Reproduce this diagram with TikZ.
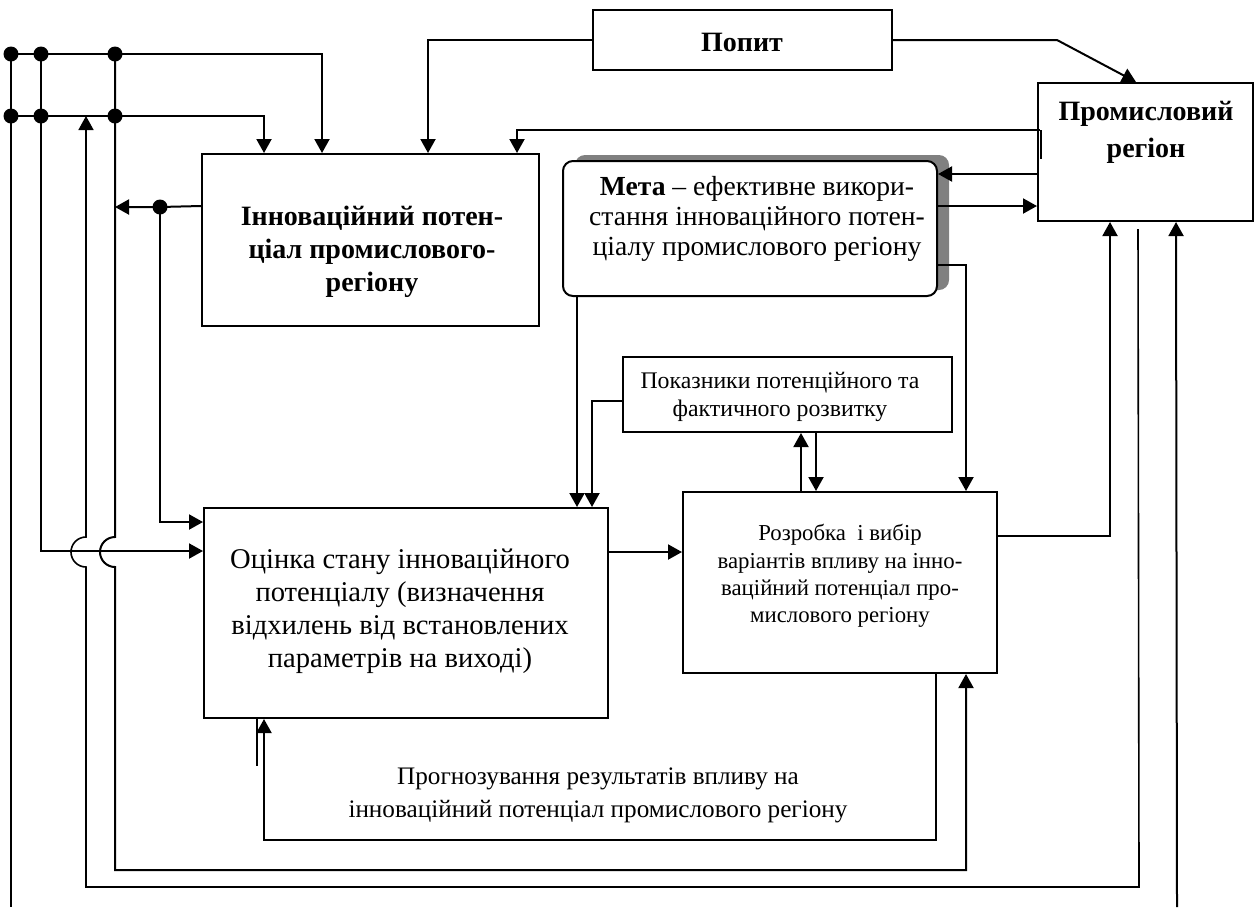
\documentclass[tikz,border=0pt]{standalone}
\usepackage{fontspec}
\setmainfont{Liberation Serif}
\usetikzlibrary{arrows.meta,fit,shadows,calc}

\tikzset{
  blk/.style={draw,line width=1pt,inner sep=0pt,fill=white},
  conn/.style={line width=1pt},
  thinln/.style={line width=0.8pt},
  arr/.style={-{Triangle[length=7pt,width=7.5pt]}},
  boldtxt/.style={align=center,font=\fontsize{14}{16.5}\selectfont\bfseries},
  midtxt/.style={align=center,font=\fontsize{14.3}{16.5}\selectfont},
  smalltxt/.style={align=center,font=\fontsize{11.4}{13.7}\selectfont},
}

\begin{document}
\begin{tikzpicture}[x=0.5pt,y=-0.5pt]
\useasboundingbox (0,0) rectangle (1257,907);

% blocks
\node[blk,fit={(593,10) (892,70)}] (pop) {};
\node[boldtxt] (popt) at (742,42) {Попит};
\node[blk,fit={(1038,83) (1253,221)}] (preg) {};
\node[boldtxt,font=\fontsize{14}{18.5}\selectfont\bfseries] (pregt) at (1146,132) {Промисловий\\регіон};
\node[blk,fit={(202,154) (539,326)}] (inn) {};
\node[boldtxt] (innt) at (372,252) {Інноваційний потен-\\ціал промислового-\\регіону};
\node[blk,rounded corners=5pt,fit={(563,161) (937,296)},
  drop shadow={shadow xshift=6pt,shadow yshift=3pt,fill=gray,opacity=1}] (meta) {};
\node[align=center,font=\fontsize{13.8}{15}\selectfont] (metat) at (757,219)
  {\textbf{Мета} -- ефективне викори-\\стання інноваційного потен-\\ціалу промислового регіону};
\node[blk,fit={(623,357) (952,432)}] (pok) {};
\node[smalltxt,font=\fontsize{11.9}{14}\selectfont] (pokt) at (780,397) {Показники потенційного та\\фактичного розвитку};
\node[blk,fit={(204,508) (608,718)}] (ocin) {};
\node[midtxt] (ocint) at (400,611)
  {Оцінка стану інноваційного\\потенціалу (визначення\\відхилень від встановлених\\параметрів на виході)};
\node[blk,fit={(683,492) (997,673)}] (rozr) {};
\node[smalltxt] (rozrt) at (840,576)
  {Розробка\ \ і вибір\\варіантів впливу на інно-\\ваційний потенціал про-\\мислового регіону};
\node[smalltxt,font=\fontsize{12.6}{16.5}\selectfont] (prog) at (598,795)
  {Прогнозування результатів впливу на\\інноваційний потенціал промислового регіону};

% junctions of the left bus
\coordinate (j1) at (11,54);
\coordinate (j2) at (41,54);
\coordinate (j3) at (115,54);
\coordinate (j4) at (11,116);
\coordinate (j5) at (41,116);
\coordinate (j6) at (115,116);
\coordinate (j7) at (160,207);
\coordinate (bl) at (11,907);
\coordinate (br) at (1177,907);

\draw[conn,arr] (j1) -- (j3) -| ($(inn.north west)+(121,0)$);
\draw[conn,arr] (j4) -- (j6) -| ($(inn.north west)+(63,0)$);
\draw[thinln] (j1) -- (bl);
\draw[conn,arr] (j2) |- ($(ocin.north west)+(0,44)$);
\draw[conn,arr] (j3) -- (115,537) arc[start angle=270,end angle=90,radius=15]
  -- (115,870) -| ($(rozr.south west)+(284,0)$);
\draw[thinln,arr] ($(preg.south west)+(101,7)$) -- (1139,887) -- (86,887) -- (86,567)
  arc[start angle=90,end angle=270,radius=15] -- (86,116);
\foreach \j in {1,...,7}{\fill (j\j) circle (7.5);}

\draw[conn,arr] ($(inn.north west)+(0,53)$) -- (j7) -- (115,207);
\draw[conn,arr] (j7) |- ($(ocin.north west)+(0,15)$);

% top connections
\draw[conn,arr] (pop.west) -| ($(inn.north west)+(227,0)$);
\draw[conn,arr] (pop.east) -- (1057,40) -- ($(preg.north west)+(99,0)$);
\draw[conn,arr] ($(preg.north west)+(3,48)$) -| ($(inn.north west)+(316,0)$);
\draw[conn] ($(preg.north west)+(4,48)$) -- ++(0,29);
\draw[conn,arr] ($(preg.north west)+(0,92)$) -- ($(meta.north east)+(0,14)$);
\draw[conn,arr] ($(meta.north east)+(0,46)$) -- ($(preg.north west)+(0,124)$);
\draw[conn,arr] ($(meta.north east)+(0,105)$) -| ($(rozr.north west)+(284,0)$);

% middle connections
\draw[conn,arr] ($(meta.south west)+(15,0)$) -- ($(ocin.north west)+(374,0)$);
\draw[conn,arr] ($(pok.north west)+(0,45)$) -| ($(ocin.north west)+(389,0)$);
\draw[conn,arr] ($(rozr.north west)+(119,0)$) -- ($(pok.south west)+(179,0)$);
\draw[conn,arr] ($(pok.south west)+(194,0)$) -- ($(rozr.north west)+(134,0)$);
\draw[conn,arr] ($(ocin.north east)+(0,45)$) -- ($(rozr.north west)+(0,61)$);
\draw[conn,arr] ($(rozr.north east)+(0,45)$) -| ($(preg.south west)+(73,0)$);

% feedback
\draw[conn,arr] ($(rozr.south west)+(254,0)$) -- ++(0,166) -| ($(ocin.south west)+(61,0)$);
\draw[thinln] (257,717) -- (257,766);
\draw[conn,arr] (br) -- ($(preg.south west)+(139,0)$);

\end{tikzpicture}
\end{document}
